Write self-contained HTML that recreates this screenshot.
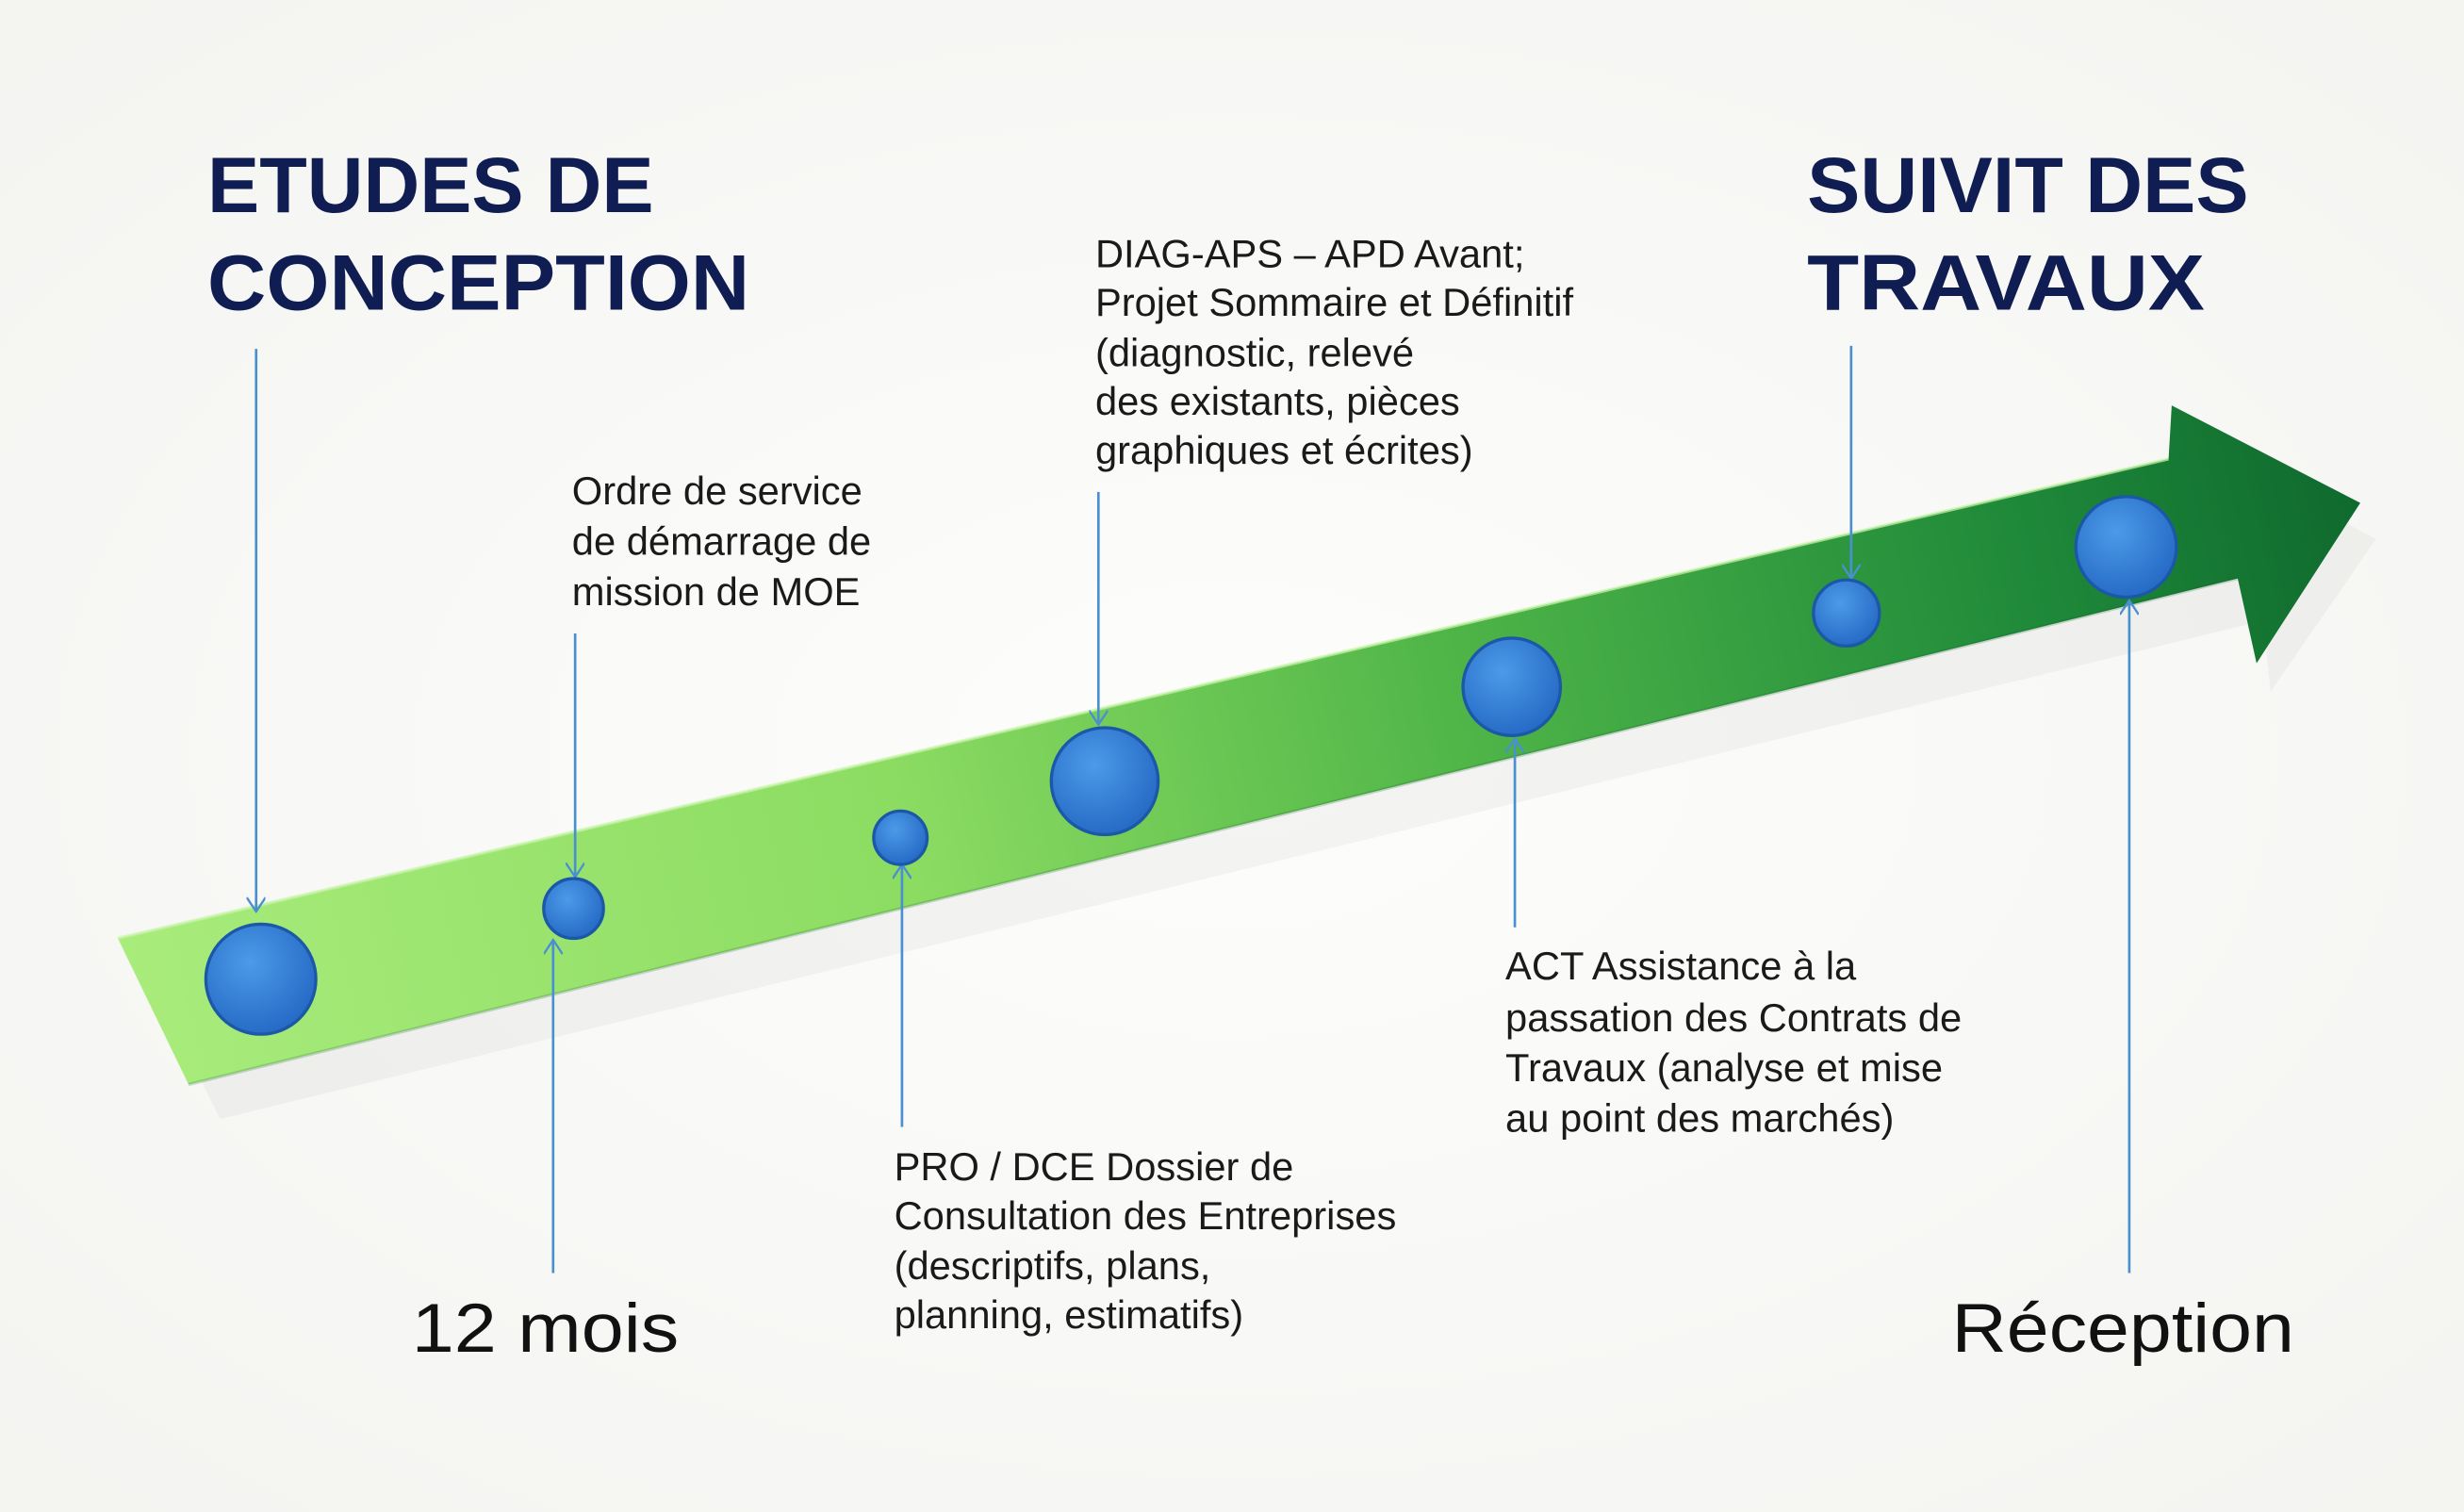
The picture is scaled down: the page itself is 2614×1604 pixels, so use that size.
<!DOCTYPE html>
<html><head><meta charset="utf-8">
<style>
html,body{margin:0;padding:0;background:#fafaf8;}
svg{display:block;}
text{font-family:"Liberation Sans",sans-serif;}
</style></head>
<body>
<svg width="2614" height="1604" viewBox="0 0 1568 962" preserveAspectRatio="none" xmlns="http://www.w3.org/2000/svg">
<defs>
<radialGradient id="bg" cx="50%" cy="50%" r="75%">
<stop offset="0" stop-color="#fdfdfc"/><stop offset="1" stop-color="#f3f3f0"/>
</radialGradient>
<linearGradient id="ar" x1="75" y1="640" x2="1500" y2="320" gradientUnits="userSpaceOnUse">
<stop offset="0" stop-color="#a9ec7c"/>
<stop offset="0.35" stop-color="#8cdc62"/>
<stop offset="0.6" stop-color="#4fb548"/>
<stop offset="0.85" stop-color="#1f8a3a"/>
<stop offset="1" stop-color="#0f6a2e"/>
</linearGradient>
<radialGradient id="dot" cx="40%" cy="35%" r="70%">
<stop offset="0" stop-color="#4c9ae8"/><stop offset="1" stop-color="#2468c4"/>
</radialGradient>
<marker id="ah" viewBox="0 0 12 12" refX="11" refY="6" markerWidth="12" markerHeight="12" markerUnits="userSpaceOnUse" orient="auto">
<path d="M2,0 L11,6 L2,12" fill="none" stroke="#4a8fd0" stroke-width="1.4"/>
</marker>
</defs>
<rect width="1568" height="962" fill="url(#bg)"/>
<path d="M95,620 L1395,315 L1395,280 L1512,343 L1445,440 L1440,395 L140,712 Z" fill="#000" opacity="0.035"/>
<path d="M75,597 L1380,292 L1382,258 L1502,320 L1436,422 L1424,368 L120,690 Z" fill="url(#ar)"/>
<path d="M75,597 L1380,292" stroke="#c8f5a8" stroke-width="2" opacity="0.7"/>
<path d="M120,690 L1424,368" stroke="#0e5a25" stroke-width="2" opacity="0.2"/>
<g stroke="#4a8fd0" stroke-width="1.6" fill="none">
<line x1="163" y1="222" x2="163" y2="580" marker-end="url(#ah)"/>
<line x1="366" y1="403" x2="366" y2="558" marker-end="url(#ah)"/>
<line x1="352" y1="810" x2="352" y2="598" marker-end="url(#ah)"/>
<line x1="574" y1="717" x2="574" y2="550" marker-end="url(#ah)"/>
<line x1="699" y1="313" x2="699" y2="461" marker-end="url(#ah)"/>
<line x1="964" y1="590" x2="964" y2="470" marker-end="url(#ah)"/>
<line x1="1178" y1="220" x2="1178" y2="368" marker-end="url(#ah)"/>
<line x1="1355" y1="810" x2="1355" y2="382" marker-end="url(#ah)"/>
</g>
<g fill="url(#dot)" stroke="#1c58a8" stroke-width="2">
<circle cx="166" cy="623" r="35"/>
<circle cx="365" cy="578" r="19"/>
<circle cx="573" cy="533" r="17"/>
<circle cx="703" cy="497" r="34"/>
<circle cx="962" cy="437" r="31"/>
<circle cx="1175" cy="390" r="21"/>
<circle cx="1353" cy="348" r="32"/>
</g>
<g fill="#0f1d52" font-weight="bold" font-size="50">
<text x="132" y="135" textLength="284" lengthAdjust="spacingAndGlyphs">ETUDES DE</text>
<text x="132" y="197" textLength="345" lengthAdjust="spacingAndGlyphs">CONCEPTION</text>
<text x="1150" y="135" textLength="281" lengthAdjust="spacingAndGlyphs">SUIVIT DES</text>
<text x="1150" y="197" textLength="253" lengthAdjust="spacingAndGlyphs">TRAVAUX</text>
</g>
<g fill="#1a1a1a" font-size="25">
<text x="364" y="321">Ordre de service</text>
<text x="364" y="353">de démarrage de</text>
<text x="364" y="385">mission de MOE</text>
<text x="697" y="170">DIAG-APS – APD Avant;</text>
<text x="697" y="201">Projet Sommaire et Définitif</text>
<text x="697" y="233">(diagnostic, relevé</text>
<text x="697" y="264">des existants, pièces</text>
<text x="697" y="295">graphiques et écrites)</text>
<text x="569" y="751">PRO / DCE Dossier de</text>
<text x="569" y="782">Consultation des Entreprises</text>
<text x="569" y="814">(descriptifs, plans,</text>
<text x="569" y="845">planning, estimatifs)</text>
<text x="958" y="623">ACT Assistance à la</text>
<text x="958" y="656">passation des Contrats de</text>
<text x="958" y="688">Travaux (analyse et mise</text>
<text x="958" y="720">au point des marchés)</text>
</g>
<g fill="#111" font-size="44">
<text x="262" y="860" textLength="170" lengthAdjust="spacingAndGlyphs">12 mois</text>
<text x="1242" y="860" textLength="218" lengthAdjust="spacingAndGlyphs">Réception</text>
</g>
</svg>
</body></html>
